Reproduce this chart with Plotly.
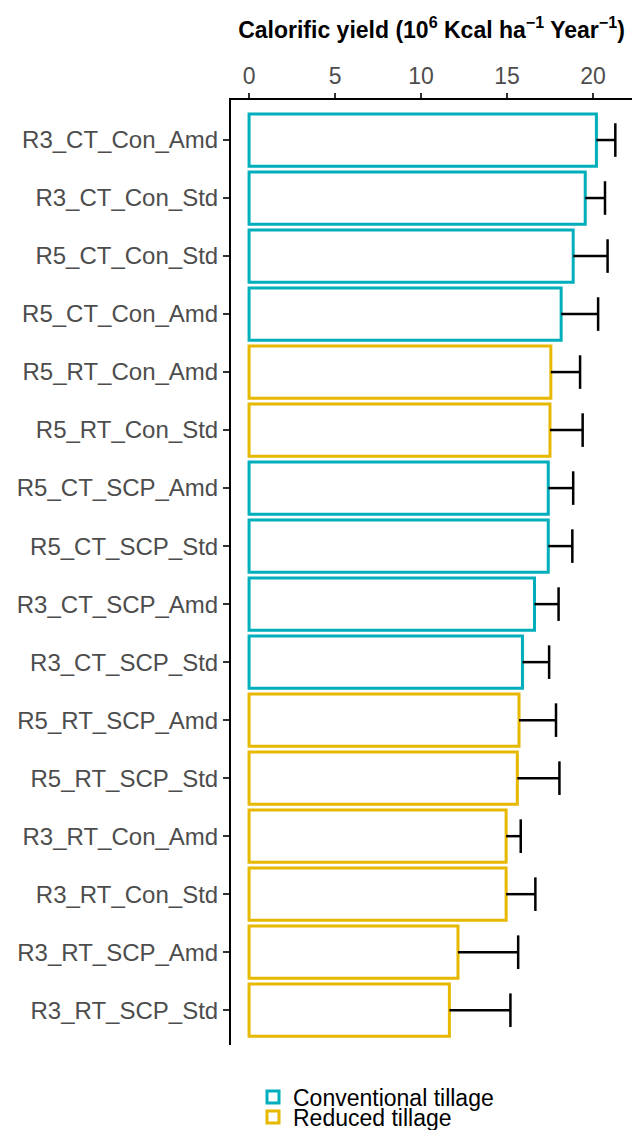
import plotly.graph_objects as go

categories = [
    "R3_CT_Con_Amd", "R3_CT_Con_Std", "R5_CT_Con_Std", "R5_CT_Con_Amd",
    "R5_RT_Con_Amd", "R5_RT_Con_Std", "R5_CT_SCP_Amd", "R5_CT_SCP_Std",
    "R3_CT_SCP_Amd", "R3_CT_SCP_Std", "R5_RT_SCP_Amd", "R5_RT_SCP_Std",
    "R3_RT_Con_Amd", "R3_RT_Con_Std", "R3_RT_SCP_Amd", "R3_RT_SCP_Std",
]
yield_vals = [20.2, 19.55, 18.85, 18.15, 17.55, 17.5, 17.4, 17.4,
              16.6, 15.9, 15.7, 15.6, 14.95, 14.95, 12.15, 11.65]
err_vals = [1.1, 1.15, 2.0, 2.15, 1.7, 1.9, 1.45, 1.4,
            1.4, 1.55, 2.15, 2.45, 0.85, 1.7, 3.5, 3.55]
tillage = ["Conventional tillage"] * 4 + ["Reduced tillage"] * 2 + ["Conventional tillage"] * 4 \
          + ["Reduced tillage"] * 6
groups = ["Conventional tillage", "Reduced tillage"]
colors = {"Conventional tillage": "#00AFBB", "Reduced tillage": "#E7B800"}
legend_ids = {"Conventional tillage": "legend", "Reduced tillage": "legend2"}

FONT = "Liberation Sans, Arial, sans-serif"

fig = go.Figure()
for g in groups:
    idx = [i for i, t in enumerate(tillage) if t == g]
    fig.add_trace(go.Bar(
        name=g,
        legend=legend_ids[g],
        orientation="h",
        y=[categories[i] for i in idx],
        x=[yield_vals[i] for i in idx],
        width=0.9,
        marker=dict(color="white", line=dict(color=colors[g], width=3)),
        error_x=dict(type="data", symmetric=False,
                     array=[err_vals[i] for i in idx],
                     arrayminus=[0] * len(idx),
                     width=0, thickness=2.5, color="black"),
    ))

# error bar caps
fig.add_trace(go.Scatter(
    x=[v + e for v, e in zip(yield_vals, err_vals)],
    y=categories,
    mode="markers",
    marker=dict(symbol="line-ns", size=24, line=dict(width=2.5, color="black")),
    showlegend=False, hoverinfo="skip",
))

W, H = 632, 1122  # page body margin of 8px shifts the figure
L, R, T, B = 223, 8, 92, 85
plot_w, plot_h = W - L - R, H - T - B

def py(fig_y):
    return (H - B - fig_y) / plot_h

leg_common = dict(orientation="v", xanchor="left", yanchor="middle",
                  font=dict(size=23, color="black", family=FONT),
                  bgcolor="rgba(0,0,0,0)", itemclick=False)

fig.update_layout(
    width=W, height=H,
    margin=dict(l=L, r=R, t=T, b=B, autoexpand=False),
    plot_bgcolor="white", paper_bgcolor="white",
    barmode="overlay",
    font=dict(family=FONT, size=23, color="#4d4d4d"),
    legend=dict(x=(245 - L) / plot_w, y=py(1089), **leg_common),
    legend2=dict(x=(245 - L) / plot_w, y=py(1109), **leg_common),
    xaxis=dict(
        side="top", range=[-1.05, 22.27],
        tickvals=[0, 5, 10, 15, 20],
        showgrid=False, zeroline=False,
        showline=True, linecolor="black", linewidth=2,
        ticks="outside", ticklen=5, tickwidth=2, tickcolor="#333333",
        tickfont=dict(size=23, color="#4d4d4d"),
        title=dict(text="<b>Calorific yield (10<sup>6</sup> Kcal ha<sup>\u22121</sup> Year<sup>\u22121</sup>)</b>",
                   font=dict(size=23, color="black"), standoff=18),
    ),
    yaxis=dict(
        type="category", categoryorder="array", categoryarray=categories,
        range=[15.6, -0.69],
        showgrid=False, zeroline=False,
        showline=True, linecolor="black", linewidth=2,
        ticks="outside", ticklen=6, tickwidth=2, tickcolor="#333333",
        tickfont=dict(size=24, color="#4d4d4d"),
    ),
)

fig.write_html("out.html")
